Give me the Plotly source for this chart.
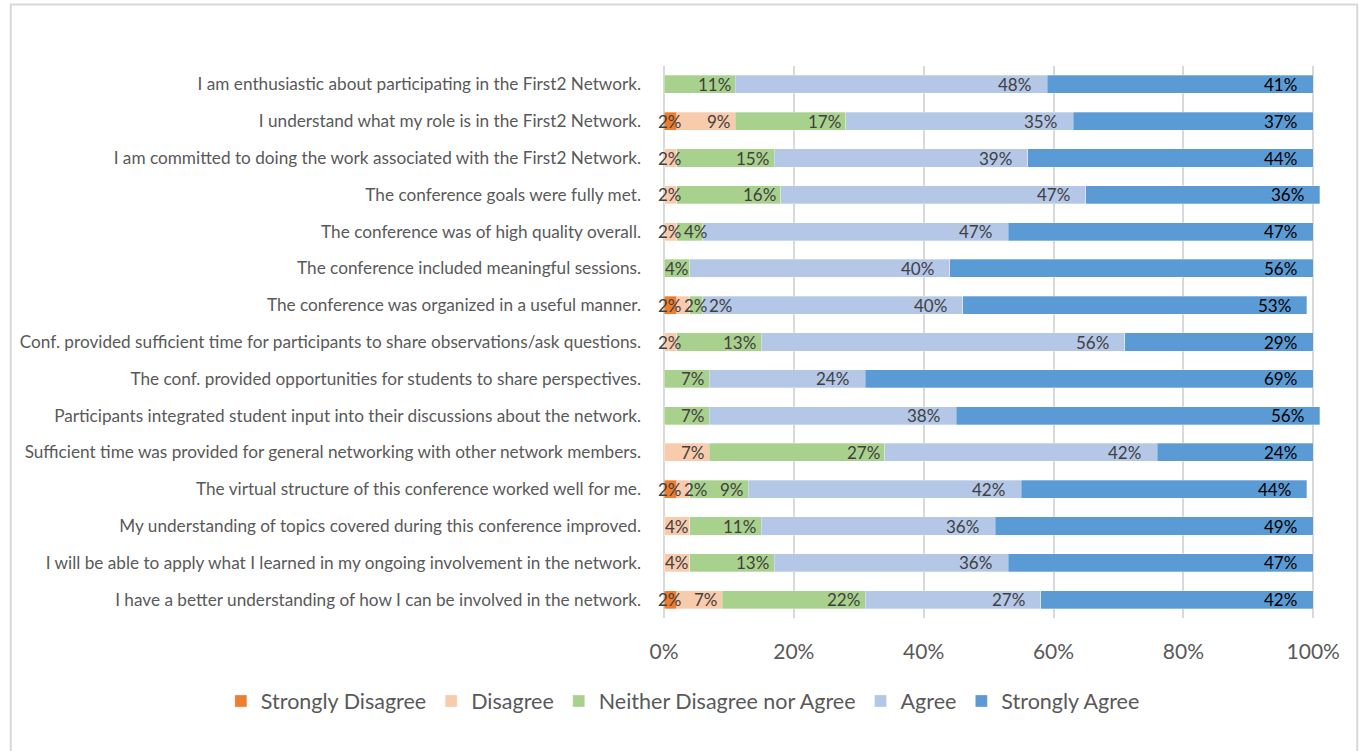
import plotly.graph_objects as go

categories = [
    "I am enthusiastic about participating in the First2 Network.",
    "I understand what my role is in the First2 Network.",
    "I am committed to doing the work associated with the First2 Network.",
    "The conference goals were fully met.",
    "The conference was of high quality overall.",
    "The conference included meaningful sessions.",
    "The conference was organized in a useful manner.",
    "Conf. provided sufficient time for participants to share observations/ask questions.",
    "The conf. provided opportunities for students to share perspectives.",
    "Participants integrated student input into their discussions about the network.",
    "Sufficient time was provided for general networking with other network members.",
    "The virtual structure of this conference worked well for me.",
    "My understanding of topics covered during this conference improved.",
    "I will be able to apply what I learned in my ongoing involvement in the network.",
    "I have a better understanding of how I can be involved in the network.",
]

strongly_disagree = [0, 2, 0, 0, 0, 0, 2, 0, 0, 0, 0, 2, 0, 0, 2]
disagree = [0, 9, 2, 2, 2, 0, 2, 2, 0, 0, 7, 2, 4, 4, 7]
neither = [11, 17, 15, 16, 4, 4, 2, 13, 7, 7, 27, 9, 11, 13, 22]
agree = [48, 35, 39, 47, 47, 40, 40, 56, 24, 38, 42, 42, 36, 36, 27]
strongly_agree = [41, 37, 44, 36, 47, 56, 53, 29, 69, 56, 24, 44, 49, 47, 42]

series_names = ["Strongly Disagree", "Disagree", "Neither Disagree nor Agree", "Agree", "Strongly Agree"]
series_values = [strongly_disagree, disagree, neither, agree, strongly_agree]
series_colors = ["#ED7D31", "#F8CBAD", "#A9D18E", "#B4C7E7", "#5B9BD5"]
label_colors = ["#404040", "#404040", "#404040", "#404040", "#000000"]
label_pad_px = [4, 5, 5, 16, 16]

x_ticks = [0, 0.2, 0.4, 0.6, 0.8, 1.0]

FONT = "Lato, 'Open Sans', sans-serif"
W, H = 1361, 751
X_MAX = 1.012          # a little room so rows summing to 101% are not clipped
UNIT_PX = 649          # pixels for 100%
ML, MT, MB = 664, 66, 133
PW = UNIT_PX * X_MAX
MR = W - ML - PW
PH = H - MT - MB

fig = go.Figure()
for name, vals, col in zip(series_names, series_values, series_colors):
    fig.add_trace(go.Bar(
        y=categories, x=[v / 100 for v in vals], name=name, orientation="h",
        marker=dict(color=col, line=dict(color="rgba(255,255,255,0.6)", width=0.5)),
        width=0.49, hoverinfo="skip",
    ))

# data labels, placed from the data (inside end, shifted right when they don't fit)
LABEL_SIZE = 17
def text_w(t):
    w = 0
    for ch in t:
        w += 14.0 if ch == "%" else 9.4
    return w / UNIT_PX

annotations = []
for i, cat in enumerate(categories):
    start = 0.0
    prev_right = -1.0
    for s, vals in enumerate(series_values):
        v = vals[i] / 100
        end = start + v
        if vals[i] > 0:
            t = f"{vals[i]}%"
            w = text_w(t)
            left = end - label_pad_px[s] / UNIT_PX - w
            if left < start:
                left = (start + end) / 2 - w / 2
            left = max(left, prev_right + 2 / UNIT_PX)
            prev_right = left + w
            annotations.append(dict(
                x=left + w / 2, y=cat, xref="x", yref="y", text=t, showarrow=False,
                xanchor="center", yanchor="middle",
                font=dict(family=FONT, size=LABEL_SIZE, color=label_colors[s]),
            ))
        start = end

def px_x(p):
    return (p - ML) / PW
def px_y(p):
    return (H - MB - p) / PH

fig.update_layout(
    width=W, height=H,
    barmode="stack",
    margin=dict(l=ML, r=MR, t=MT, b=MB, pad=0, autoexpand=False),
    paper_bgcolor="white", plot_bgcolor="white",
    font=dict(family=FONT, color="#595959"),
    bargap=0.51,
    annotations=annotations,
    legend=dict(
        orientation="h", xref="paper", yref="paper",
        x=px_x(221), xanchor="left", y=px_y(701), yanchor="middle",
        font=dict(family=FONT, size=21.5, color="#595959"),
        traceorder="normal", itemwidth=30,
    ),
    showlegend=True,
)
fig.update_xaxes(
    range=[0, X_MAX], tickvals=x_ticks, tickformat=".0%",
    showgrid=True, gridcolor="#d9d9d9", gridwidth=1.5,
    zeroline=True, zerolinecolor="#d9d9d9", zerolinewidth=1.5,
    tickfont=dict(family=FONT, size=21, color="#595959"),
    ticks="", ticklabelstandoff=19, fixedrange=True,
)
fig.update_yaxes(
    autorange="reversed", showgrid=False, zeroline=False,
    tickfont=dict(family=FONT, size=17.2, color="#595959"),
    ticks="", ticklabelstandoff=22, fixedrange=True,
)

# chart area border
fig.add_shape(type="rect", xref="paper", yref="paper",
              x0=px_x(11), x1=px_x(1357), y0=px_y(760), y1=px_y(4.5),
              line=dict(color="#d9d9d9", width=2), fillcolor="rgba(0,0,0,0)", layer="below")

fig.write_html("out.html")
